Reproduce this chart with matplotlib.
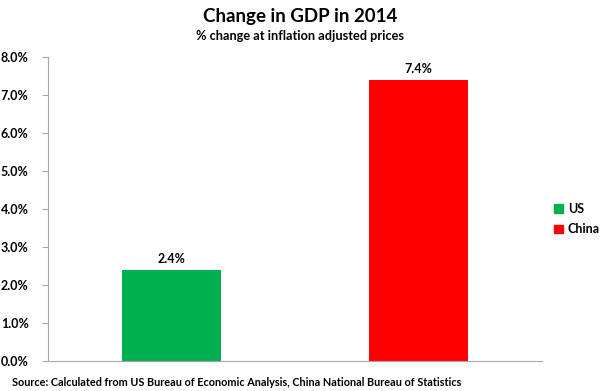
import matplotlib
matplotlib.use("Agg")
import matplotlib.pyplot as plt
from matplotlib.patches import Patch

categories = ["US", "China"]
values = [2.4, 7.4]
colors = ["#00b050", "#ff0000"]
yticks = [0, 1, 2, 3, 4, 5, 6, 7, 8]
title = "Change in GDP in 2014"
subtitle = "% change at inflation adjusted prices"
source = "Source: Calculated from US Bureau of Economic Analysis, China National Bureau of Statistics"

plt.rcParams['font.family'] = ['Lato', 'DejaVu Sans']
plt.rcParams['font.weight'] = 'bold'

fig = plt.figure(figsize=(6, 3.91), dpi=100)
ax = fig.add_axes([0.08, 0.0767, 0.823, 0.777])

x = range(len(categories))
ax.bar(x, values, width=0.4, color=colors)
for xi, v in zip(x, values):
    ax.text(xi, v + 0.12, f"{v:.1f}%", ha="center", va="bottom", fontsize=9, fontweight="bold")

ax.set_xlim(-0.5, 1.5)
ax.set_ylim(0, 8)
ax.set_yticks(yticks)
ax.set_yticklabels([f"{t:.1f}%" for t in yticks], fontsize=9, fontweight="bold")
ax.set_xticks([])
for s in ["top", "right"]:
    ax.spines[s].set_visible(False)
for s in ["left", "bottom"]:
    ax.spines[s].set_color("#a6a6a6")
ax.tick_params(axis="y", length=4, color="#a6a6a6", pad=10)

handles = [Patch(color=c) for c in colors]
fig.legend(handles, categories, loc="center left", bbox_to_anchor=(0.915, 0.44),
           frameon=False, prop={"weight": "bold", "size": 9},
           handlelength=0.7, handleheight=0.7, handletextpad=0.4, labelspacing=0.7,
           borderaxespad=0)

fig.text(0.5, 0.958, title, ha="center", va="center", fontsize=13.5, fontweight="bold")
fig.text(0.5, 0.908, subtitle, ha="center", va="center", fontsize=9.2, fontweight="bold")
fig.text(0.02, 0.022, source, ha="left", va="center", fontsize=7.8, fontweight="bold")

fig.savefig("out.png", dpi=100)
